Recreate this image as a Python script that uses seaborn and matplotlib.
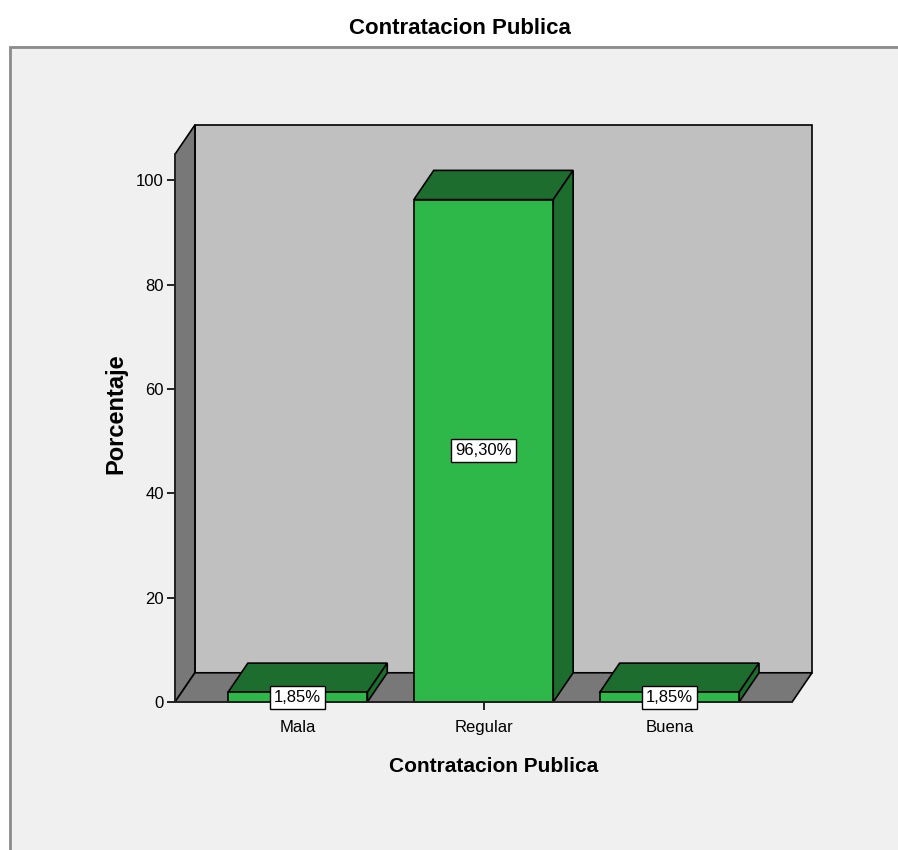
import matplotlib
matplotlib.use("Agg")
import matplotlib.pyplot as plt
from matplotlib.patches import Polygon, Rectangle
import seaborn as sns
import pandas as pd

# ------------------------------
# Data
# ------------------------------
categorias = ["Mala", "Regular", "Buena"]
porcentajes = [1.85, 96.30, 1.85]
y_ticks = [0, 20, 40, 60, 80, 100]

titulo = "Contratacion Publica"
x_label = "Contratacion Publica"
y_label = "Porcentaje"

df = pd.DataFrame({"categoria": categorias, "porcentaje": porcentajes})

# ------------------------------
# Colours / 3D geometry
# ------------------------------
verde = "#2eb84a"
verde_osc = "#1d6e2e"
gris_pared = "#c0c0c0"
gris_osc = "#787878"
fondo = "#f0f0f0"

x_min, x_max = -0.66, 2.66   # floor front edge
y_top = 105                  # top of the side wall (front)
dx, dy = 0.107, 5.6          # depth offset in data units

sns.set_style("white")
plt.rcParams["font.family"] = ["Liberation Sans Narrow", "Liberation Sans", "DejaVu Sans"]
plt.rcParams["text.color"] = "black"
plt.rcParams["axes.labelcolor"] = "black"

fig = plt.figure(figsize=(8.98, 8.5), dpi=100)
fig.patch.set_facecolor("white")
fig.patches.append(Rectangle((10 / 898, -0.01), 0.99, (850 - 47) / 850 + 0.01,
                             transform=fig.transFigure, facecolor=fondo,
                             edgecolor="#8a8a8a", lw=2, zorder=-1))

ax = fig.add_axes([175 / 898, (850 - 702) / 850, (812 - 175) / 898, (702 - 125) / 850])
ax.set_facecolor("none")

sns.barplot(data=df, x="categoria", y="porcentaje", color=verde, width=0.75,
            edgecolor="black", linewidth=1.2, saturation=1, ax=ax, zorder=3)
bars = list(ax.patches)

ax.set_xlim(x_min, x_max + dx)
ax.set_ylim(0, y_top + dy)

# back wall, side wall and floor
ax.add_patch(Rectangle((x_min + dx, dy), x_max - x_min, y_top, facecolor=gris_pared,
                       edgecolor="black", lw=1.2, zorder=0.5, clip_on=False))
ax.add_patch(Polygon([(x_min, 0), (x_min, y_top), (x_min + dx, y_top + dy), (x_min + dx, dy)],
                     closed=True, facecolor=gris_osc, edgecolor="black", lw=1.2,
                     zorder=0.6, clip_on=False))
ax.add_patch(Polygon([(x_min, 0), (x_max, 0), (x_max + dx, dy), (x_min + dx, dy)],
                     closed=True, facecolor=gris_osc, edgecolor="black", lw=1.2,
                     zorder=0.6, clip_on=False))

# 3D faces of the bars + value labels
for bar, val in zip(bars, porcentajes):
    x0 = bar.get_x()
    x1 = x0 + bar.get_width()
    h = bar.get_height()
    bar.set_clip_on(False)
    ax.add_patch(Polygon([(x0, h), (x1, h), (x1 + dx, h + dy), (x0 + dx, h + dy)],
                         closed=True, facecolor=verde_osc, edgecolor="black", lw=1.2,
                         zorder=2.5, clip_on=False))
    ax.add_patch(Polygon([(x1, 0), (x1 + dx, dy), (x1 + dx, h + dy), (x1, h)],
                         closed=True, facecolor=verde_osc, edgecolor="black", lw=1.2,
                         zorder=2.5, clip_on=False))
    etiqueta = f"{val:.2f}%".replace(".", ",")
    ax.text(x0 + bar.get_width() / 2, h / 2, etiqueta, ha="center", va="center",
            fontsize=12, color="black", zorder=6,
            bbox=dict(boxstyle="square,pad=0.25", facecolor="white", edgecolor="black", lw=1))

# axes styling
for s in ["top", "right"]:
    ax.spines[s].set_visible(False)
ax.spines["left"].set_bounds(0, y_top)
ax.spines["bottom"].set_bounds(x_min, x_max)
ax.spines["left"].set_linewidth(1.2)
ax.spines["bottom"].set_linewidth(1.2)
ax.spines["left"].set_zorder(4)
ax.spines["bottom"].set_zorder(4)
ax.set_yticks(y_ticks)
ax.tick_params(axis="both", direction="out", length=6, width=1.2, labelsize=12,
               colors="black", left=True, bottom=True)
ax.tick_params(axis="x", pad=7)
ax.tick_params(axis="y", pad=2)

ax.set_xlabel(x_label, fontsize=15, fontweight="bold", labelpad=16)
ax.set_ylabel(y_label, fontsize=17, fontweight="bold", labelpad=6,
              family=["Liberation Sans", "DejaVu Sans"])
fig.text(460 / 898, 1 - 29 / 850, titulo, ha="center", va="center",
         fontsize=16, fontweight="bold")

plt.savefig("out.png", dpi=100, facecolor=fig.get_facecolor())
